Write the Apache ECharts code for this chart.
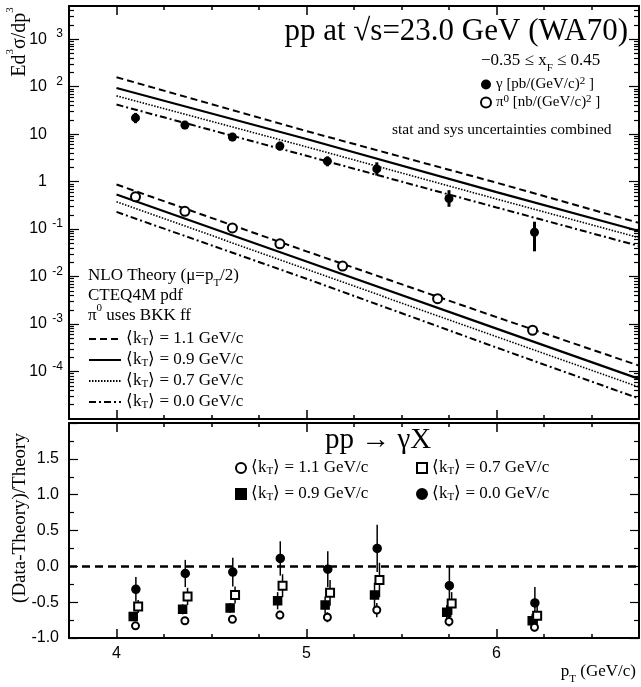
<!DOCTYPE html>
<html>
<head>
<meta charset="utf-8">
<script src="https://cdn.jsdelivr.net/npm/echarts@6/dist/echarts.min.js"></script>
<style>
html, body { margin: 0; padding: 0; background: #fff; }
#main { width: 641px; height: 687px; }
</style>
</head>
<body>
<div id="main"></div>
<script>
// direct photons, WA70 (pb/(GeV/c)^2)
var gammaPt = [4.1, 4.36, 4.61, 4.86, 5.11, 5.37, 5.75, 6.2];
var gammaVal = [22, 15.5, 8.7, 5.6, 2.7, 1.85, 0.44, 0.086];
var gammaLo = [17, 12.7, 7.1, 4.5, 2.1, 1.34, 0.295, 0.034];
var gammaHi = [28, 19, 10.6, 6.9, 3.4, 2.55, 0.66, 0.143];

// pi0 (nb/(GeV/c)^2)
var pionPt = [4.1, 4.36, 4.61, 4.86, 5.19, 5.69, 6.19];
var pionVal = [0.48, 0.237, 0.106, 0.049, 0.0166, 0.00343, 0.00074];
var pionLo = [0.41, 0.215, 0.097, 0.045, 0.0152, 0.0031, 0.00062];
var pionHi = [0.57, 0.26, 0.116, 0.054, 0.0182, 0.0038, 0.00088];

// NLO theory curves for each <kT>
var theoryPt = [4.0, 5.0, 6.0, 6.75];
var gammaK11 = [158, 11.6, 0.95, 0.135];
var gammaK09 = [94, 7.9, 0.6, 0.091];
var gammaK07 = [64, 5.4, 0.43, 0.066];
var gammaK00 = [42, 3.5, 0.286, 0.044];
var pionK11 = [0.87, 0.034, 0.0014, 0.000133];
var pionK09 = [0.536, 0.0207, 0.0008, 0.00007];
var pionK07 = [0.377, 0.0143, 0.00054, 0.000047];
var pionK00 = [0.23, 0.009, 0.00032, 0.000027];

// (Data-Theory)/Theory for photons
var ratioK11 = [-0.83, -0.76, -0.74, -0.68, -0.71, -0.61, -0.77, -0.85];
var ratioK09 = [-0.70, -0.60, -0.58, -0.48, -0.54, -0.40, -0.64, -0.76];
var ratioK07 = [-0.56, -0.42, -0.40, -0.27, -0.37, -0.19, -0.52, -0.69];
var ratioK00 = [-0.32, -0.10, -0.08, 0.11, -0.04, 0.25, -0.27, -0.51];
var errK11 = [0.04, 0.04, 0.04, 0.06, 0.07, 0.10, 0.07, 0.06];
var errK09 = [0.06, 0.07, 0.07, 0.12, 0.12, 0.17, 0.10, 0.10];
var errK07 = [0.09, 0.12, 0.12, 0.16, 0.18, 0.24, 0.16, 0.14];
var errK00 = [0.17, 0.19, 0.20, 0.24, 0.25, 0.33, 0.27, 0.22];

var yMajor = [-4, -3, -2, -1, 0, 1, 2, 3];
var xMajor = [4, 5, 6];

var SERIF = 'Liberation Serif';
var SANS = 'Liberation Sans';
var YMAX = 5000;

var myChart = echarts.init(document.getElementById('main'));

// minor log ticks 2..9 per decade, expressed as log10
var yMinor = [];
for (var d = -5; d <= 3; d++) {
    for (var m = 2; m <= 9; m++) {
        var lv = d + Math.log10(m);
        if (lv < Math.log10(YMAX)) yMinor.push(lv);
    }
}

function richFor(lh) {
    return {
        sub: { fontSize: 11, fontFamily: SERIF, verticalAlign: 'bottom', lineHeight: lh },
        sup: { fontSize: 11, fontFamily: SERIF, verticalAlign: 'top', lineHeight: lh }
    };
}
var subRich = {
    sub: { fontSize: 11, fontFamily: SERIF, verticalAlign: 'bottom', padding: [0, 0, -4, 0] },
    sup: { fontSize: 11, fontFamily: SERIF, verticalAlign: 'top', padding: [-5, 0, 0, 0] }
};

var legendText = {
    kt11: '⟨k{sub|T}⟩ = 1.1 GeV/c',
    kt09: '⟨k{sub|T}⟩ = 0.9 GeV/c',
    kt07: '⟨k{sub|T}⟩ = 0.7 GeV/c',
    kt00: '⟨k{sub|T}⟩ = 0.0 GeV/c',
    r11: '⟨k{sub|T}⟩ = 1.1 GeV/c',
    r09: '⟨k{sub|T}⟩ = 0.9 GeV/c',
    r07: '⟨k{sub|T}⟩ = 0.7 GeV/c',
    r00: '⟨k{sub|T}⟩ = 0.0 GeV/c',
    gam: 'γ [pb/(GeV/c){sup|2} ]',
    pi0: 'π{sup|0} [nb/(GeV/c){sup|2} ]'
};

function pairs(xs, ys) {
    return xs.map(function (x, i) { return [x, ys[i]]; });
}

function errRender(width) {
    return function (params, api) {
        var p1 = api.coord([api.value(0), api.value(1)]);
        var p2 = api.coord([api.value(0), api.value(2)]);
        return {
            type: 'line',
            shape: { x1: p1[0], y1: p1[1], x2: p2[0], y2: p2[1] },
            style: { stroke: '#000', lineWidth: width }
        };
    };
}

function theoryLine(name, data, dash, width) {
    return {
        name: name, type: 'line', xAxisIndex: 0, yAxisIndex: 0,
        data: pairs(theoryPt, data), symbol: 'none', silent: true,
        itemStyle: { color: '#000' },
        lineStyle: { color: '#000', width: width, type: dash }
    };
}

function ratioSeries(name, vals, errs, shift, symbol, size) {
    var xs = gammaPt.map(function (x) { return x + shift; });
    return [{
        type: 'custom', xAxisIndex: 4, yAxisIndex: 5, silent: true,
        renderItem: errRender(1.5), encode: { x: 0, y: [1, 2] },
        data: xs.map(function (x, i) { return [x, vals[i] - errs[i], vals[i] + errs[i]]; }),
        z: 3
    }, {
        name: name, type: 'scatter', xAxisIndex: 4, yAxisIndex: 5,
        data: pairs(xs, vals), symbol: symbol, symbolSize: size,
        itemStyle: { color: '#000', borderColor: '#000', borderWidth: 1.5, opacity: 1 },
        z: 4
    }];
}

var frame = { show: true, onZero: false, lineStyle: { color: '#000', width: 2 } };
var noLine = { show: false, onZero: false };

function xAxes(grid, labels) {
    return [
        { type: 'value', gridIndex: grid, position: 'bottom', min: 3.75, max: 6.75, interval: 0.25,
          axisLine: frame, axisTick: { inside: true, length: 4, lineStyle: { color: '#000', width: 1.5 } },
          axisLabel: { show: false }, splitLine: { show: false } },
        { type: 'value', gridIndex: grid, position: 'bottom', min: 3.75, max: 6.75,
          axisLine: noLine,
          axisTick: { inside: true, length: 9, customValues: xMajor, lineStyle: { color: '#000', width: 1.5 } },
          axisLabel: { show: labels, customValues: xMajor, margin: 8, color: '#000', fontFamily: SANS, fontSize: 16 },
          splitLine: { show: false } },
        { type: 'value', gridIndex: grid, position: 'top', min: 3.75, max: 6.75, interval: 0.25,
          axisLine: frame, axisTick: { inside: true, length: 4, lineStyle: { color: '#000', width: 1.5 } },
          axisLabel: { show: false }, splitLine: { show: false } },
        { type: 'value', gridIndex: grid, position: 'top', min: 3.75, max: 6.75,
          axisLine: noLine,
          axisTick: { inside: true, length: 9, customValues: xMajor, lineStyle: { color: '#000', width: 1.5 } },
          axisLabel: { show: false }, splitLine: { show: false } }
    ];
}

function logTickAxis(pos, values, len, labels) {
    return {
        type: 'value', gridIndex: 0, position: pos, min: -5, max: Math.log10(YMAX),
        axisLine: len > 6 ? frame : noLine,
        axisTick: { inside: true, length: len, customValues: values, lineStyle: { color: '#000', width: 1.2 } },
        axisLabel: {
            show: labels, customValues: yMajor, margin: 6, align: 'right',
            formatter: function (v) {
                if (v === 0) return '{b|1}{s| }';
                if (v === 1) return '{b|10}{s| }';
                return '{b|10}{s|' + v + '}';
            },
            rich: {
                b: { fontFamily: SANS, fontSize: 16, color: '#000', width: 20, align: 'right' },
                s: { fontFamily: SANS, fontSize: 12, color: '#000', width: 16, align: 'right', verticalAlign: 'top', padding: [0, 0, 10, 0] }
            }
        },
        splitLine: { show: false }
    };
}

function ratioYAxis(pos, labels) {
    return {
        type: 'value', gridIndex: 1, position: pos, min: -1, max: 2, interval: 0.5,
        axisLine: frame,
        axisTick: { inside: true, length: 9, lineStyle: { color: '#000', width: 1.2 } },
        minorTick: { show: true, splitNumber: 2, length: 5, lineStyle: { color: '#000', width: 1.2 } },
        axisLabel: { show: labels, showMaxLabel: false, margin: 10, color: '#000', fontFamily: SANS, fontSize: 16,
                     formatter: function (v) { return v.toFixed(1); } },
        splitLine: { show: false }, minorSplitLine: { show: false }
    };
}

var series = [
    theoryLine('kt11', gammaK11, [7, 4], 2),
    theoryLine('kt09', gammaK09, 'solid', 2.2),
    theoryLine('kt07', gammaK07, [1.5, 1.5], 1.6),
    theoryLine('kt00', gammaK00, [7, 3, 2, 3], 2),
    theoryLine('kt11', pionK11, [7, 4], 2),
    theoryLine('kt09', pionK09, 'solid', 2.2),
    theoryLine('kt07', pionK07, [1.5, 1.5], 1.6),
    theoryLine('kt00', pionK00, [7, 3, 2, 3], 2),
    {
        type: 'custom', xAxisIndex: 0, yAxisIndex: 0, silent: true,
        renderItem: errRender(3), encode: { x: 0, y: [1, 2] },
        data: gammaPt.map(function (x, i) { return [x, gammaLo[i], gammaHi[i]]; }), z: 3
    },
    {
        type: 'custom', xAxisIndex: 0, yAxisIndex: 0, silent: true,
        renderItem: errRender(2), encode: { x: 0, y: [1, 2] },
        data: pionPt.map(function (x, i) { return [x, pionLo[i], pionHi[i]]; }), z: 3
    },
    {
        name: 'gam', type: 'scatter', xAxisIndex: 0, yAxisIndex: 0,
        data: pairs(gammaPt, gammaVal), symbol: 'circle', symbolSize: 9,
        itemStyle: { color: '#000', opacity: 1 }, z: 4
    },
    {
        name: 'pi0', type: 'scatter', xAxisIndex: 0, yAxisIndex: 0,
        data: pairs(pionPt, pionVal), symbol: 'emptyCircle', symbolSize: 9,
        itemStyle: { color: '#000', borderColor: '#000', borderWidth: 2.2, opacity: 1 }, z: 4
    }
];
series = series
    .concat(ratioSeries('r09', ratioK09, errK09, -0.012, 'rect', 8))
    .concat(ratioSeries('r11', ratioK11, errK11, 0, 'emptyCircle', 7))
    .concat(ratioSeries('r00', ratioK00, errK00, 0.002, 'circle', 8))
    .concat(ratioSeries('r07', ratioK07, errK07, 0.014, 'emptyRect', 8));

// dashed zero line in ratio panel
series.push({
    type: 'line', xAxisIndex: 4, yAxisIndex: 5, data: [], silent: true,
    markLine: {
        silent: true, symbol: 'none', label: { show: false },
        lineStyle: { color: '#000', width: 2.5, type: [8, 5] },
        data: [{ yAxis: 0 }]
    }
});

function legendBox(data, left, top, iw, ih, gap, size, lh) {
    return {
        data: data, left: left, top: top, orient: 'vertical', padding: 0,
        itemWidth: iw, itemHeight: ih, itemGap: gap, selectedMode: false,
        formatter: function (name) { return legendText[name]; },
        textStyle: { fontFamily: SERIF, fontSize: size, color: '#000', lineHeight: lh, rich: richFor(lh) }
    };
}

var lineLegend = legendBox(['kt11', 'kt09', 'kt07', 'kt00'], 88, 330, 32, 14, 3, 17, 18);
lineLegend.itemStyle = { color: 'rgba(0,0,0,0)', borderWidth: 0, opacity: 0 };

option = {
    animation: false,
    backgroundColor: '#fff',
    grid: [
        { left: 69, right: 2, top: 6, height: 413 },
        { left: 69, right: 2, top: 423, height: 215 }
    ],
    xAxis: xAxes(0, false).concat(xAxes(1, true)),
    yAxis: [
        { type: 'log', gridIndex: 0, logBase: 10, min: 0.00001, max: YMAX, show: false },
        logTickAxis('left', yMajor, 10, true),
        logTickAxis('left', yMinor, 5, false),
        logTickAxis('right', yMajor, 10, false),
        logTickAxis('right', yMinor, 5, false),
        ratioYAxis('left', true),
        ratioYAxis('right', false)
    ],
    legend: [
        lineLegend,
        legendBox(['gam', 'pi0'], 480, 76, 10, 10, 1, 15, 17),
        legendBox(['r11', 'r09'], 235, 459, 10, 10, 8, 17, 18),
        legendBox(['r07', 'r00'], 416, 459, 10, 10, 8, 17, 18)
    ],
    graphic: [
        { type: 'text', x: 628, y: 32, style: { text: 'pp at √s=23.0 GeV (WA70)', align: 'right', verticalAlign: 'middle',
            font: '31px "' + SERIF + '"', fill: '#000' } },
        { type: 'text', x: 481, y: 61, style: { text: '−0.35 ≤ x{sub|F} ≤ 0.45', verticalAlign: 'middle',
            font: '17px "' + SERIF + '"', fill: '#000', rich: subRich } },
        { type: 'text', x: 392, y: 130, style: { text: 'stat and sys uncertainties combined', verticalAlign: 'middle',
            font: '15.5px "' + SERIF + '"', fill: '#000' } },
        { type: 'text', x: 88, y: 276, style: { text: 'NLO Theory (μ=p{sub|T}/2)', verticalAlign: 'middle',
            font: '17px "' + SERIF + '"', fill: '#000', rich: subRich } },
        { type: 'text', x: 88, y: 296, style: { text: 'CTEQ4M pdf', verticalAlign: 'middle',
            font: '17px "' + SERIF + '"', fill: '#000' } },
        { type: 'text', x: 88, y: 316, style: { text: 'π{sup|0} uses BKK ff', verticalAlign: 'middle',
            font: '17px "' + SERIF + '"', fill: '#000', rich: subRich } },
        { type: 'text', x: 325, y: 440, style: { text: 'pp → γX', verticalAlign: 'middle',
            font: '29px "' + SERIF + '"', fill: '#000' } },
        { type: 'text', x: 20, y: 42, rotation: Math.PI / 2, style: { text: 'Ed{sup|3}σ/dp{sup|3}', align: 'center', verticalAlign: 'middle',
            font: '20px "' + SERIF + '"', fill: '#000', rich: subRich } },
        { type: 'text', x: 20, y: 518, rotation: Math.PI / 2, style: { text: '(Data-Theory)/Theory', align: 'center', verticalAlign: 'middle',
            font: '19px "' + SERIF + '"', fill: '#000' } },
        { type: 'text', x: 636, y: 672, style: { text: 'p{sub|T} (GeV/c)', align: 'right', verticalAlign: 'middle',
            font: '17px "' + SERIF + '"', fill: '#000', rich: subRich } }
    ],
    series: series
};
myChart.setOption(option);
</script>
</body>
</html>
